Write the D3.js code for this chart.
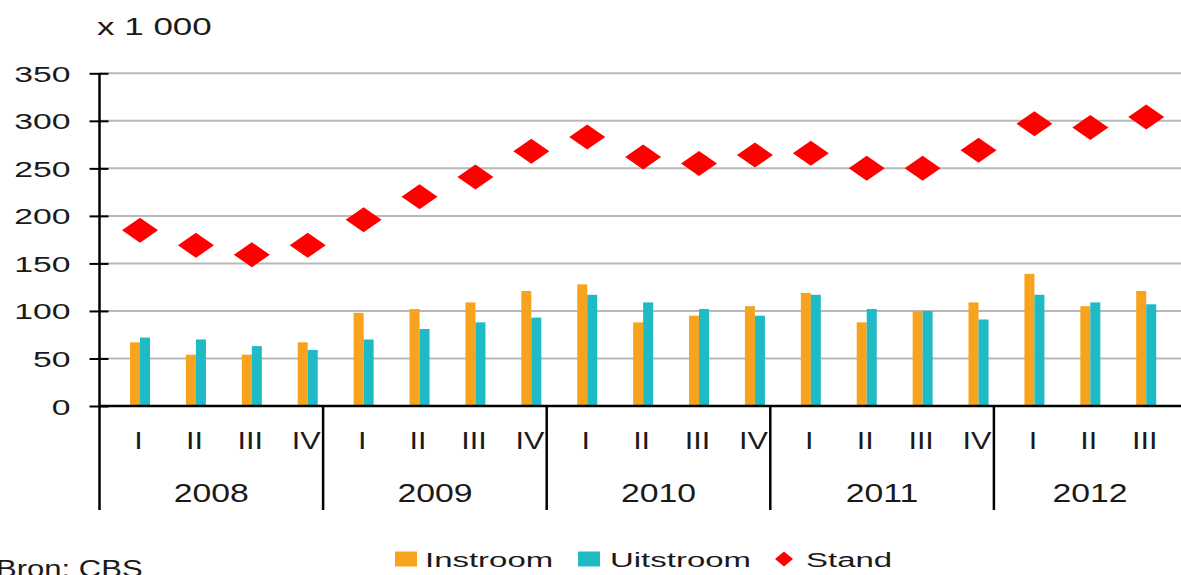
<!DOCTYPE html>
<html>
<head>
<meta charset="utf-8">
<script src="https://cdn.jsdelivr.net/npm/d3@7"></script>
<style>
  html, body { margin: 0; padding: 0; background: #fff; }
  svg { display: block; }
  text { font-family: "Liberation Sans", Arial, sans-serif; fill: #1a1a1a; }
</style>
</head>
<body>
<svg id="chart" width="1181" height="575"></svg>
<script>
// Quarterly data, in thousands
const years = ["2008", "2009", "2010", "2011", "2012"];
const quarters = ["I", "II", "III", "IV"];
const periods = [
  "2008-I", "2008-II", "2008-III", "2008-IV",
  "2009-I", "2009-II", "2009-III", "2009-IV",
  "2010-I", "2010-II", "2010-III", "2010-IV",
  "2011-I", "2011-II", "2011-III", "2011-IV",
  "2012-I", "2012-II", "2012-III"
];
const instroom  = [67, 54, 54, 67, 98, 102, 109, 121, 128, 88, 95, 105, 119, 88, 100, 109, 139, 105, 121];
const uitstroom = [72, 70, 63, 59, 70, 81, 88, 93, 117, 109, 102, 95, 117, 102, 100, 91, 117, 109, 107];
const stand     = [185, 169, 159, 169, 196, 220, 241, 268, 283, 262, 255, 264, 266, 250, 250, 269, 297, 293, 304];
const yTicks = [0, 50, 100, 150, 200, 250, 300, 350];
const seriesNames = ["Instroom", "Uitstroom", "Stand"];

const colors = { Instroom: "#F8A31E", Uitstroom: "#1EBBC5", Stand: "#FF0000" };

const svg = d3.select("#chart");

// Layout
const left = 99.5, step = 55.9;
const plotRight = 1186;
const y0 = 406, yTop = 73.3;
const markOffset = 0.725;     // mark position within each category slot
const barW = 10;
const textScale = 1.5;        // wide letterforms

const x = d3.scaleBand().domain(periods).range([left, left + step * periods.length]).padding(0);
const y = d3.scaleLinear().domain([0, 350]).range([y0, yTop]);
const cx = p => x(p) + x.bandwidth() * markOffset;

function wideText(g, tx, ty, str, size, sx, anchor) {
  return g.append("text")
    .attr("transform", `translate(${tx},${ty}) scale(${sx},1)`)
    .attr("text-anchor", anchor || "start")
    .style("font-size", size + "px")
    .text(str);
}

// Gridlines
svg.append("g").selectAll("line")
  .data(yTicks.filter(t => t > 0))
  .join("line")
  .attr("x1", left).attr("x2", plotRight)
  .attr("y1", d => y(d)).attr("y2", d => y(d))
  .attr("stroke", "#b8b8b8").attr("stroke-width", 2);

// Y axis with crossing tick marks
const yAxis = d3.axisLeft(y).tickValues(yTicks).tickSize(0).tickFormat("");
const yg = svg.append("g").attr("transform", `translate(${left},0)`).call(yAxis);
yg.select(".domain").remove();
yg.selectAll(".tick").append("line")
  .attr("x1", -10).attr("x2", 9).attr("stroke", "#000").attr("stroke-width", 2);
yg.selectAll(".tick").each(function (d) {
  wideText(d3.select(this), -29, 8, String(d), 22.5, textScale, "end");
});
svg.append("line")
  .attr("x1", left).attr("x2", left).attr("y1", yTop).attr("y2", 510)
  .attr("stroke", "#000").attr("stroke-width", 2.5);

wideText(svg, 97, 35, "x 1 000", 23.5, 1.49, "start");

// Bars
const barG = svg.append("g");
barG.selectAll("rect.in")
  .data(periods)
  .join("rect")
  .attr("class", "in")
  .attr("x", d => cx(d) - barW)
  .attr("width", barW)
  .attr("y", (d, i) => y(instroom[i]))
  .attr("height", (d, i) => y(0) - y(instroom[i]))
  .attr("fill", colors.Instroom);
barG.selectAll("rect.out")
  .data(periods)
  .join("rect")
  .attr("class", "out")
  .attr("x", d => cx(d))
  .attr("width", barW)
  .attr("y", (d, i) => y(uitstroom[i]))
  .attr("height", (d, i) => y(0) - y(uitstroom[i]))
  .attr("fill", colors.Uitstroom);

// X axis baseline
svg.append("line")
  .attr("x1", left).attr("x2", plotRight).attr("y1", y0).attr("y2", y0)
  .attr("stroke", "#000").attr("stroke-width", 2.5);

// Diamonds for the level
const diamond = (hw, hh) => `M0,${-hh}L${hw},0L0,${hh}L${-hw},0Z`;
svg.append("g").selectAll("path")
  .data(periods)
  .join("path")
  .attr("d", diamond(18, 12.5))
  .attr("transform", (d, i) => `translate(${cx(d)},${y(stand[i])})`)
  .attr("fill", colors.Stand);

// Category axis: quarters and years
const catG = svg.append("g");
periods.forEach(p => {
  const q = p.split("-")[1];
  wideText(catG, cx(p) - 1.5, 449, q, 23.5, 1.3, "middle");
});
years.forEach((yr, k) => {
  const first = periods.find(p => p.startsWith(yr));
  const sx = x(first);
  if (k > 0) {
    catG.append("line")
      .attr("x1", sx).attr("x2", sx).attr("y1", y0).attr("y2", 510)
      .attr("stroke", "#000").attr("stroke-width", 2.5);
  }
  const next = years[k + 1] ? x(periods.find(p => p.startsWith(years[k + 1]))) : plotRight;
  wideText(catG, (sx + next) / 2, 501.5, yr, 25, 1.35, "middle");
});

// Legend
const lg = svg.append("g");
const legendItems = [
  { name: seriesNames[0], sw: 395, tx: 425 },
  { name: seriesNames[1], sw: 578, tx: 610 },
  { name: seriesNames[2], sw: 775, tx: 806 }
];
legendItems.forEach(it => {
  if (it.name === "Stand") {
    lg.append("path").attr("d", diamond(9, 7.5))
      .attr("transform", `translate(${it.sw + 9},559)`).attr("fill", colors.Stand);
  } else {
    lg.append("rect").attr("x", it.sw).attr("y", 551.5).attr("width", 22).attr("height", 15)
      .attr("fill", colors[it.name]);
  }
  wideText(lg, it.tx, 566.7, it.name, 21, 1.57, "start");
});

// Source line
wideText(svg, -4, 577, "Bron: CBS", 23, 1.35, "start");
</script>
</body>
</html>
